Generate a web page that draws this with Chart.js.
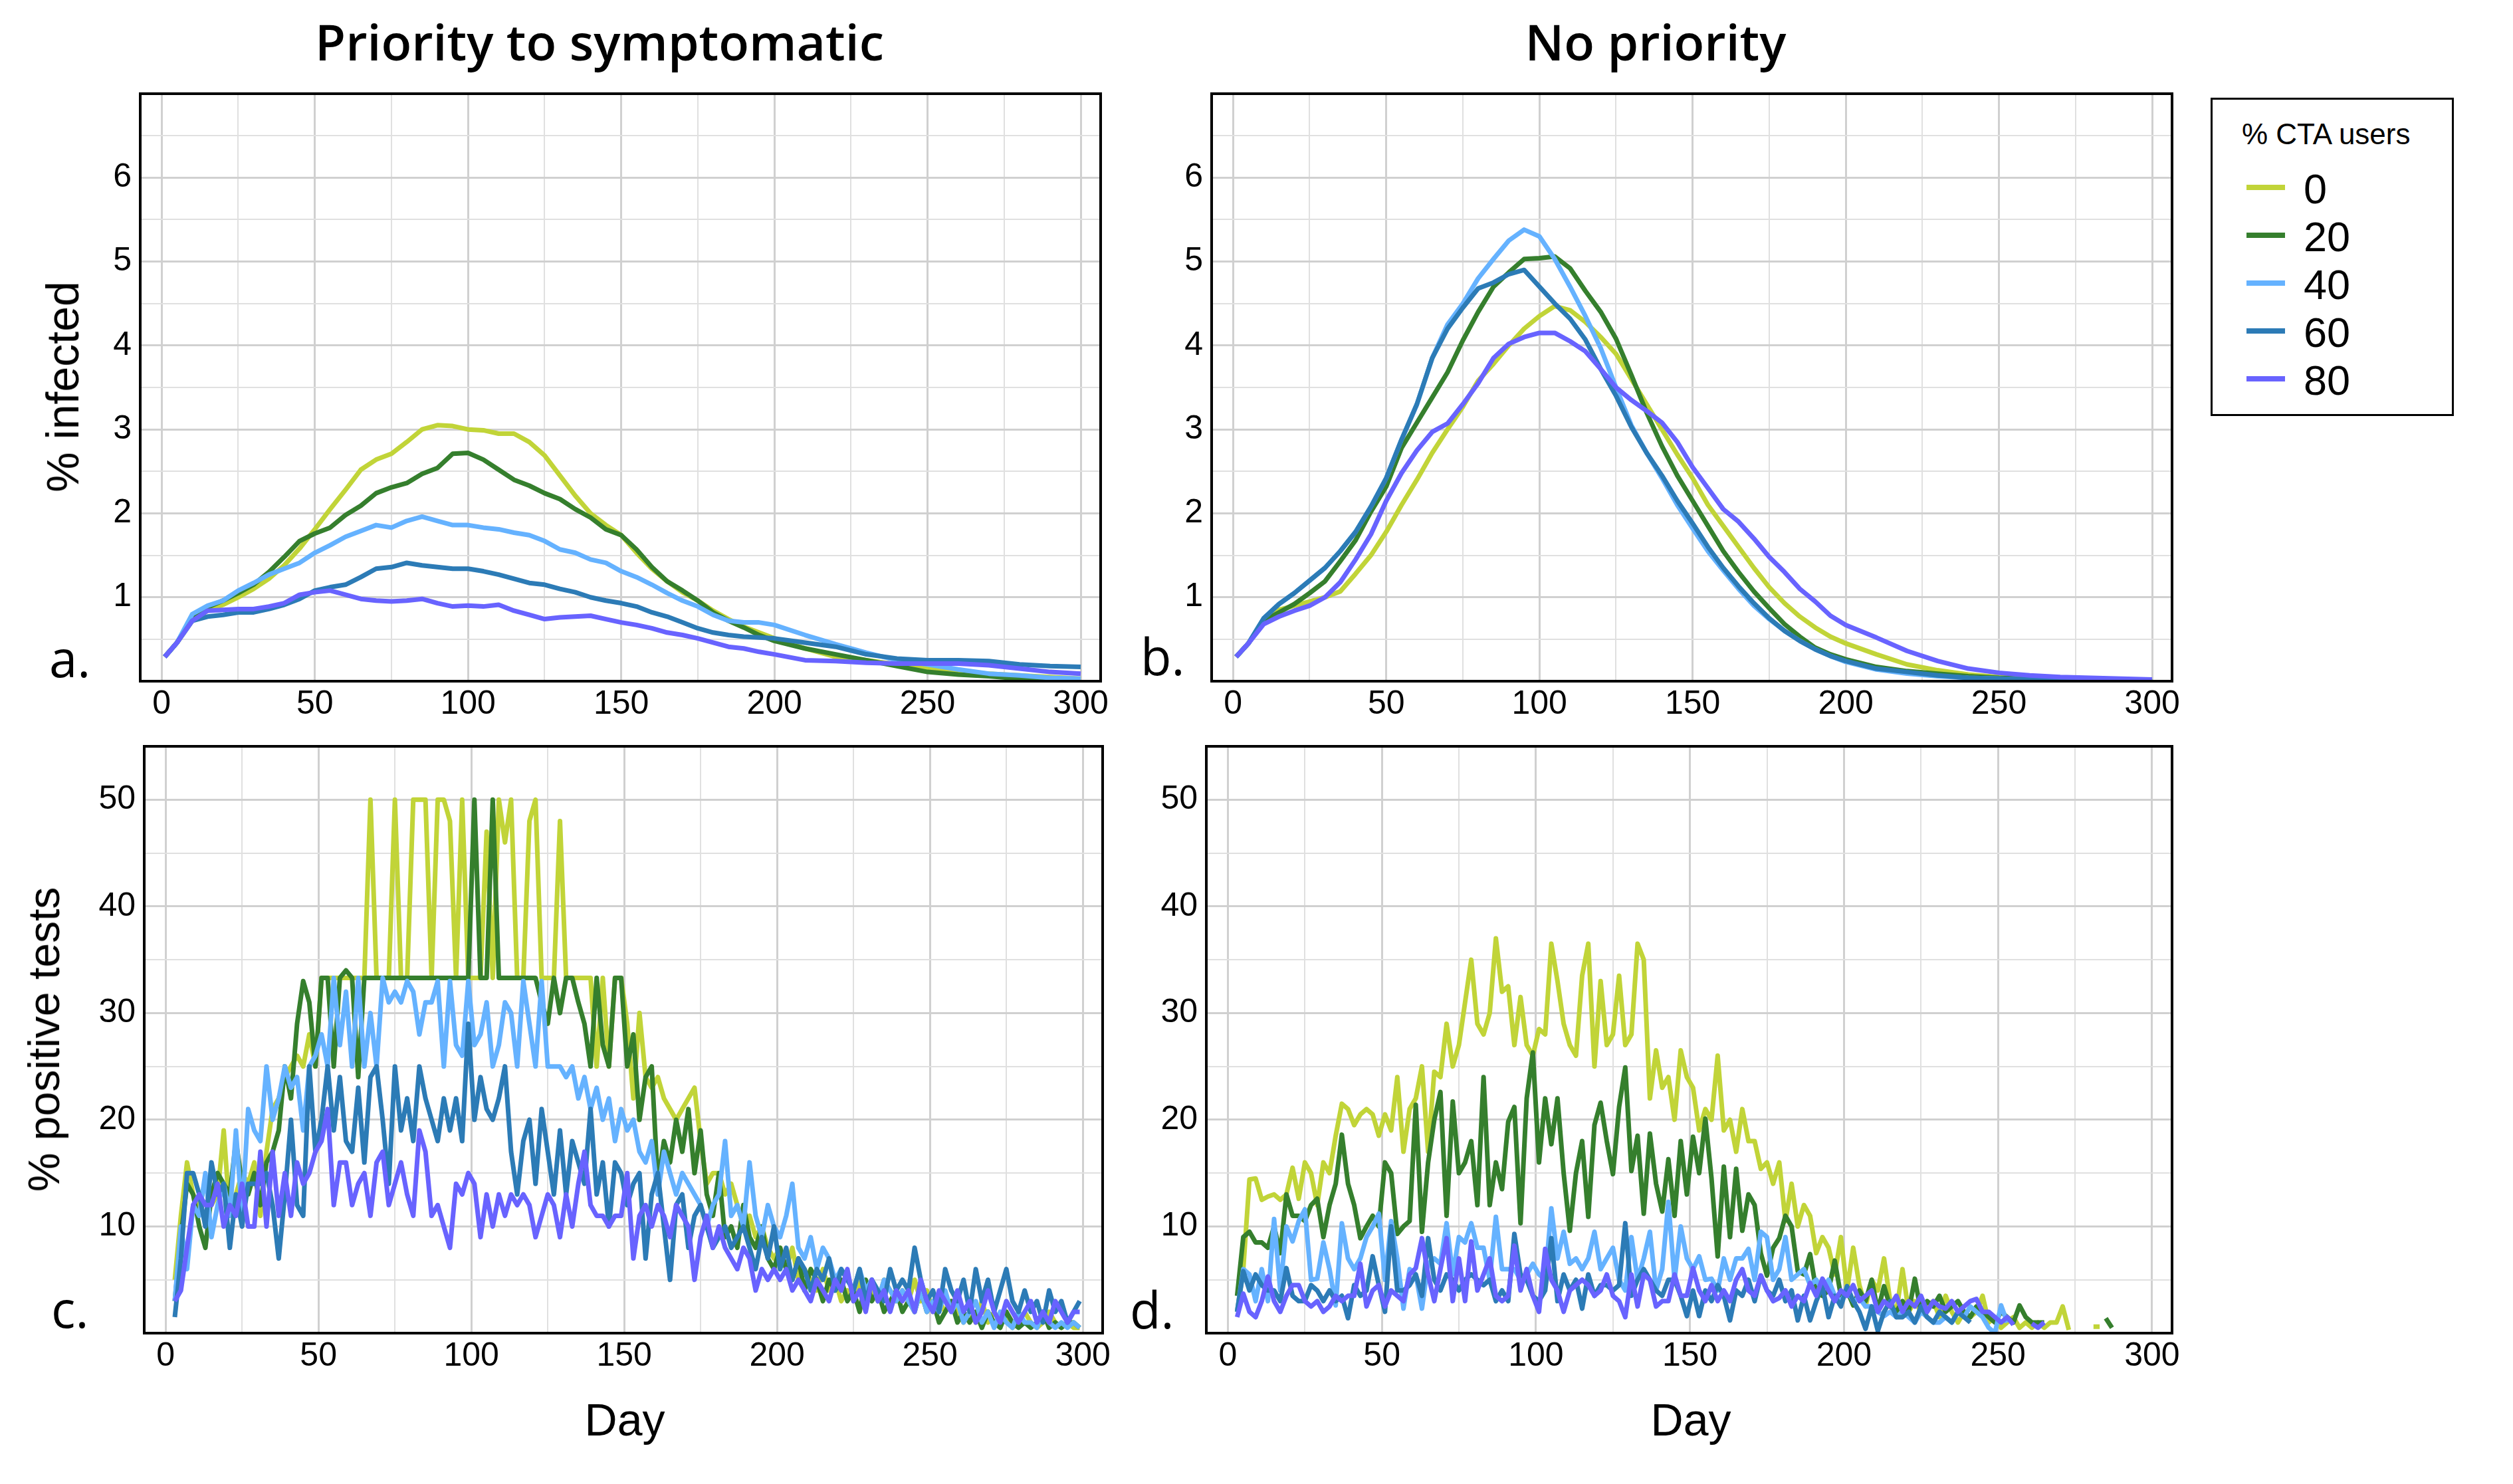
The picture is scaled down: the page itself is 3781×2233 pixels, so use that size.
<!DOCTYPE html>
<html>
<head>
<meta charset="utf-8">
<script src="https://cdn.jsdelivr.net/npm/chart.js@4.4.1/dist/chart.umd.min.js"></script>
<style>
  html, body { margin: 0; padding: 0; background: #fff; }
  #page { position: relative; width: 3781px; height: 2233px; overflow: hidden; background: #fff; }
  canvas { position: absolute; }
  .txt { position: absolute; white-space: nowrap; color: #000; }
  .sans { font-family: "Liberation Sans", Arial, sans-serif; }
  .open { font-family: "Open Sans", "Noto Sans", sans-serif; }
  #legend { position: absolute; box-sizing: border-box; border: 3px solid #000; background: #fff; }
  .swatch { position: absolute; height: 8px; width: 58px; }
</style>
</head>
<body>
<div id="page">
  <div class="txt open" style="left:902px;top:25px;font-size:75px;line-height:75px;font-weight:600;transform:translateX(-50%)">Priority to symptomatic</div>
  <div class="txt open" style="left:2491px;top:25px;font-size:75px;line-height:75px;font-weight:600;transform:translateX(-50%)">No priority</div>
</div>
<script>
// jours échantillonnés
const DAYS_AB = [1,5,10,15,20,25,30,35,40,45,50,55,60,65,70,75,80,85,90,95,100,105,110,115,120,125,130,135,140,145,150,155,160,165,170,175,180,185,190,195,200,210,220,230,240,250,260,270,280,290,300];
const DAYS_CD = Array.from({ length: 149 }, (_, i) => 3 + 2 * i);

const CTA_LEVELS = ["0", "20", "40", "60", "80"];
const COLORS = ["#c1d438", "#357f2d", "#65b2ff", "#2c7bb6", "#6863ff"];

const X_GRID = [0,25,50,75,100,125,150,175,200,225,250,275,300];
const X_LABELS = [0,50,100,150,200,250,300];
const Y_GRID_INF = [0,0.5,1,1.5,2,2.5,3,3.5,4,4.5,5,5.5,6,6.5,7];
const Y_LABELS_INF = [1,2,3,4,5,6];
const Y_GRID_POS = [0,5,10,15,20,25,30,35,40,45,50,55];
const Y_LABELS_POS = [10,20,30,40,50];

// a. % infected, priority to symptomatic
const A_0 = [0.29,0.46,0.72,0.84,0.91,1.0,1.1,1.22,1.38,1.58,
  1.81,2.05,2.28,2.52,2.64,2.71,2.85,3.0,3.05,3.04,
  3.0,2.99,2.95,2.95,2.85,2.69,2.45,2.21,2.0,1.86,
  1.74,1.53,1.34,1.19,1.06,0.96,0.84,0.74,0.65,0.58,
  0.51,0.39,0.29,0.25,0.2,0.15,0.11,0.09,0.07,0.05,0.03];
const A_20 = [0.29,0.46,0.75,0.88,0.96,1.05,1.15,1.3,1.48,1.67,
  1.76,1.83,1.98,2.09,2.24,2.31,2.36,2.47,2.54,2.71,
  2.72,2.64,2.52,2.4,2.33,2.24,2.17,2.05,1.95,1.81,
  1.74,1.57,1.36,1.19,1.08,0.96,0.82,0.72,0.64,0.55,
  0.48,0.39,0.32,0.25,0.18,0.11,0.08,0.06,0.03,0.02,0.02];
const A_40 = [0.29,0.46,0.8,0.9,0.96,1.08,1.17,1.27,1.34,1.41,
  1.53,1.62,1.72,1.79,1.86,1.83,1.91,1.96,1.91,1.86,
  1.86,1.83,1.81,1.77,1.74,1.67,1.57,1.53,1.45,1.41,
  1.31,1.24,1.15,1.05,0.96,0.89,0.79,0.72,0.7,0.7,
  0.67,0.55,0.44,0.34,0.25,0.2,0.14,0.09,0.07,0.04,0.03];
const A_60 = [0.29,0.46,0.72,0.77,0.79,0.82,0.82,0.86,0.91,0.98,
  1.08,1.12,1.15,1.24,1.34,1.36,1.41,1.38,1.36,1.34,
  1.34,1.31,1.27,1.22,1.17,1.15,1.1,1.06,1.0,0.96,
  0.93,0.89,0.82,0.77,0.7,0.63,0.58,0.55,0.53,0.52,
  0.51,0.46,0.41,0.32,0.27,0.25,0.25,0.24,0.2,0.18,0.17];
const A_80 = [0.29,0.46,0.72,0.84,0.85,0.86,0.86,0.89,0.93,1.03,
  1.06,1.08,1.03,0.98,0.96,0.95,0.96,0.98,0.93,0.89,
  0.9,0.89,0.91,0.84,0.79,0.74,0.76,0.77,0.78,0.74,
  0.7,0.67,0.63,0.58,0.55,0.51,0.46,0.41,0.39,0.35,
  0.32,0.25,0.24,0.22,0.21,0.21,0.21,0.19,0.15,0.11,0.09];

// b. % infected, no priority
const B_0 = [0.29,0.45,0.73,0.85,0.9,0.95,1.0,1.07,1.28,1.5,
  1.78,2.1,2.4,2.72,3.0,3.27,3.58,3.78,4.0,4.2,
  4.35,4.47,4.42,4.28,4.1,3.9,3.6,3.3,3.0,2.7,
  2.42,2.1,1.85,1.6,1.35,1.12,0.93,0.77,0.64,0.53,
  0.45,0.32,0.2,0.13,0.08,0.05,0.03,0.02,0.01,0.01,0];
const B_20 = [0.29,0.45,0.72,0.82,0.92,1.05,1.19,1.43,1.68,2.02,
  2.32,2.78,3.08,3.38,3.68,4.06,4.4,4.7,4.87,5.03,
  5.04,5.06,4.92,4.65,4.4,4.08,3.65,3.2,2.8,2.45,
  2.15,1.85,1.55,1.3,1.07,0.87,0.68,0.53,0.4,0.32,
  0.26,0.17,0.12,0.09,0.06,0.04,0.03,0.02,0.01,0.01,0];
const B_40 = [0.29,0.45,0.75,0.92,1.05,1.2,1.35,1.55,1.78,2.08,
  2.42,2.88,3.3,3.85,4.25,4.5,4.8,5.03,5.25,5.38,
  5.3,5.03,4.7,4.35,3.97,3.5,3.05,2.72,2.42,2.1,
  1.82,1.55,1.32,1.1,0.9,0.74,0.6,0.48,0.38,0.3,
  0.23,0.14,0.09,0.06,0.04,0.03,0.02,0.01,0.01,0.01,0];
const B_60 = [0.29,0.45,0.75,0.92,1.05,1.2,1.35,1.55,1.78,2.08,
  2.42,2.88,3.3,3.85,4.2,4.45,4.68,4.75,4.85,4.9,
  4.7,4.5,4.32,4.07,3.72,3.4,3.03,2.72,2.45,2.15,
  1.88,1.6,1.35,1.13,0.93,0.75,0.6,0.48,0.38,0.3,
  0.24,0.15,0.11,0.07,0.04,0.03,0.02,0.01,0.01,0.01,0];
const B_80 = [0.29,0.45,0.68,0.77,0.84,0.9,1.0,1.18,1.45,1.75,
  2.15,2.48,2.75,2.97,3.07,3.3,3.55,3.85,4.02,4.1,
  4.15,4.15,4.05,3.93,3.72,3.5,3.35,3.22,3.08,2.85,
  2.55,2.3,2.05,1.9,1.7,1.48,1.3,1.1,0.95,0.78,
  0.67,0.52,0.36,0.24,0.15,0.1,0.07,0.05,0.04,0.03,0.02];

// c. % positive tests, priority to symptomatic
const C_0 = [5,11,16,13,12,14,12,13,19,11,
  13,15,14,16,11,17,21,22,24,25,
  26,25,28,25,33.3,33.3,33.3,33.3,33.3,33.3,
  33.3,33.3,50,33.3,33.3,33.3,50,33.3,33.3,50,
  50,50,33.3,50,50,48,33.3,50,33.3,33.3,
  33.3,47,33.3,50,46,50,33.3,33.3,48,50,
  33.3,33.3,33.3,48,33.3,33.3,33.3,33.3,33.3,25,
  33.3,25,33.3,33.3,29,22,30,24,23,24,
  22,21,20,21,22,23,18,14,15,15,
  13,14,12,10,11,9,10,8,7,8,
  6,8,5,6,5,4,6,4,5,3,
  4,3,5,3,4,3,5,4,3,4,
  3,5,3,4,2,3,2,3,2,1,
  2,1,3,1,2,1,2,0.5,1,2,
  1,0.5,1,2,1,0.5,1,0.5,0.5];
const C_20 = [3,9,14,13,10,8,13,15,14,13,
  18,14,13,15,12,16,17,19,25,22,
  29,33,31,25,33.3,33.3,25,33.3,34,33.3,
  24,33.3,33.3,33.3,33.3,33.3,33.3,33.3,33.3,33.3,
  33.3,33.3,33.3,33.3,33.3,33.3,33.3,33.3,33.3,50,
  33.3,33.3,50,33.3,33.3,33.3,33.3,33.3,33.3,33.3,
  31,29,33.3,30,33.3,33.3,31,29,25,33.3,
  27,25,33.3,33.3,25,28,20,24,25,14,
  18,16,20,17,21,15,19,13,11,15,
  9,10,8,12,9,8,10,7,6,8,
  6,5,7,4,6,5,3,5,4,5,
  3,4,2,5,3,4,2,3,4,2,
  3,2,4,2,3,1,2,3,1,2,
  1,2,0.5,2,1,0.5,2,1,0.5,1,
  0.5,1,2,0.5,1,0.5,1,1,0.5];
const C_40 = [3,10,6,12,11,15,9,12,14,11,
  19,11,21,19,18,25,20,22,25,23,
  24,19,25,26,28,25,33.3,27,32,25,
  33.3,25,30,25,33.3,31,32,31,33,32,
  28,31,31,33,25,33,27,26,33,27,
  28,31,25,27,31,30,25,33,29,25,
  33,25,25,25,24,25,22,24,21,23,
  20,22,18,21,19,20,17,16,18,13,
  17,15,13,15,14,13,12,10,12,13,
  18,11,12,10,16,11,9,12,10,9,
  11,14,8,7,9,6,8,7,5,6,
  5,4,6,4,5,3,5,4,3,4,
  3,2,4,2,3,2,4,2,3,1,
  2,3,1,2,0.5,2,1,0.5,2,1,
  1,0.5,2,1,0.5,1,0.5,1,0.5];
const C_60 = [1.5,7,15,15,13,10,16,13,14,8,
  13,10,14,14,14,15,12,7,13,20,
  12,11,25,17,20,25,19,24,18,17,
  23,16,24,25,20,14,25,19,22,18,
  25,22,20,18,22,19,22,18,29,20,
  24,21,20,22,25,17,13,18,20,14,
  21,17,13,19,13,18,16,14,21,13,
  16,10,16,15,12,14,15,7,13,15,
  10,5,12,13,8,11,12,10,8,9,
  10,8,9,10,8,6,9,7,10,6,
  8,5,7,6,4,6,5,7,4,6,
  5,4,6,3,5,4,3,6,4,5,
  4,8,5,3,4,2,6,4,3,5,
  2,6,3,5,2,4,6,3,2,4,
  2,3,1,4,2,3,1,2,3];
const C_80 = [3,4,8,12,13,12,12,14,10,12,
  11,14,10,10,17,10,17,11,15,11,
  16,14,15,17,18,21,12,16,16,12,
  14,15,11,16,17,12,14,16,13,11,
  19,17,11,12,10,8,14,13,15,14,
  9,13,10,13,11,13,12,13,12,9,
  11,13,12,9,13,10,14,17,12,11,
  11,10,11,11,15,7,11,12,10,12,
  11,9,12,11,10,5,9,11,8,10,
  8,7,6,8,7,4,6,5,6,5,
  6,4,5,4,3,5,4,3,5,4,
  6,3,4,2,5,3,4,2,4,3,
  4,2,5,3,2,4,3,2,4,2,
  3,1,2,4,2,1,3,2,1,2,
  3,1,2,1,3,2,1,2,2];

// d. % positive tests, no priority
const D_0 = [2,6,14.4,14.5,12.5,12.8,13,12.5,13,15.5,
  12.6,16,15,12,16,15,18.5,21.5,21,19.5,
  20.5,21,20.5,18.5,20.5,19,24,17,21,22,
  25,17,24.5,24,29,25,27,31,35,29,
  28,30,37,32,32.5,27,31.5,27,26,28.5,
  28,36.5,33,29,27,26,33.5,36.5,25,33,
  27,28,33.5,27,28,36.5,35,22,26.5,23,
  24,20,26.5,24,23,19,21,20,26,19,
  20,17,21,18,18,15.4,16,14,16,10.5,
  14,10,12,11,7.5,9,8,5.5,9,4,
  8,4.5,2.5,5,4,7,3,2,6,2,
  3,2,2.5,3,1.5,3.5,2,1,2,1.5,
  2,3.5,1,1.5,0.5,1,1.5,0.5,1,0.5,
  1,0.5,1,1,2.5,0.3,null,null,null,0.6,
  0.6,null,null,null,null,null,null,null,null];
const D_20 = [3.5,9,9.5,8.5,8.5,8,10,7.5,13,11,
  11,10.5,12,12.6,9,12,14,18.6,14,12,
  8.9,10,11,10,16,15,9.3,10,10.5,21.4,
  9.5,16,20,22.6,11,21.7,15,16,18,12,
  24,12,16,13.5,19.8,21.2,10.3,22,26.3,16,
  22,17.7,22,15,9.6,15,18,10.9,19.5,21.6,
  18,14.9,21.2,24.9,15.2,18.5,11.2,18.7,14,11.4,
  16.3,11,18,13,18.4,15,20.1,14.5,7.2,15.6,
  9,15.4,9.6,13,12,7.5,5.4,8,8.9,11,
  10,5.8,5.5,7.4,4,3.5,4,6.8,3.5,4,
  2.6,4,3,5,2.1,4.4,2.5,2,3,2,
  5.1,2,3,2.5,3.5,2,2.5,3,2,1.5,
  2.5,2,1.5,1,2,1.5,1,2.6,1.5,1,
  1,1,null,null,null,null,null,null,null,null,
  null,1.4,0.5,null,null,null,null,null,null];
const D_40 = [2,6,5.5,3,6,3,10.7,4,10,8.6,
  10.5,11.6,5,5.1,8.5,6,2.6,10.3,7,6,
  7,9,10,11.2,5,10.5,7,2.3,6,5.5,
  2.3,6.5,7,6.5,10.3,5.5,9,8.5,10.3,8,
  8,5,10.9,6,6,6,5,5.5,6.5,5.5,
  5,11.7,7,9.5,6.5,7,6,7,9.5,6,
  7,8,5,4,9,5,7,9.5,4,6,
  12.3,5,10,7,6,7.2,5,5.1,4,7,
  5,7,7,7.9,5,9.5,9,5,6,9,
  5,5.5,6,4.5,5,4,5,3.5,3,4,
  3,3.3,2.5,2.5,2,1.6,2,1.5,2,1.5,
  1,2,1.5,1,1,1.5,1,2,1.5,2.5,
  2,1.5,0.5,0,2.6,1,null,null,null,null,
  null,null,null,null,null,null,null,null,null,null,
  null,null,null,null,null,null,null,null,null];
const D_60 = [2,5.8,4,5.5,4.5,4,4,3,6.1,3.5,
  3,3,4.5,4,3,4,3,3.5,1.4,4.5,
  3.5,4,7.2,4.5,2,10,4,4,4.5,5.5,
  3.5,8.9,5,4,5.5,5,4,5,5.5,5,
  4.5,5,3,4,3,9.3,5.5,5,3.5,3,
  4,8.9,3,5.5,4,5,2.3,5.5,3.5,4.5,
  4.5,4,4.5,10.3,3.5,5,6,5,4,3.5,
  5,5,3.5,1.6,4,1.6,4,3,4.5,3.5,
  1.2,4,3.5,5,3,5.4,4,3.5,5,3,
  4,1.2,3.5,1.2,3,4.4,1.5,3.5,2.5,4.4,
  3,2,0.4,2.5,0.2,2,3,1.5,1.5,2,
  1,2.5,1.5,1,2,1.5,1,2,1.5,1,
  null,null,null,null,null,null,null,null,null,null,
  null,null,null,null,null,null,null,null,null,null,
  null,null,null,null,null,null,null,null,null];
const D_80 = [1.5,3.7,2,1.5,3,5.3,3,2,3.5,4.5,
  4.5,3,2.5,3,2,2.5,3.5,3,3.5,3.5,
  6.5,2.5,4,4.5,2.5,4,3.5,3,5.5,6.1,
  8.9,5.5,3,6,8.9,3,7,3,8.6,4,
  5.5,7,3.5,3,3.5,8.2,4,6,3.5,2,
  7.9,5,4,2,4,4.5,5,4.5,3.5,4,
  5.5,3.5,3,1.5,5.5,2.5,5.5,5,2.5,3,
  3,5.5,3.5,3.5,6.1,4,3,4.5,3,4,
  3,5,6,4,3.5,5.4,4,3,3.3,4,
  2.5,3.5,3,4.7,3.5,5.1,4,3,4,3.5,
  4.5,3,3.5,4,2,3,2.5,3.5,2,3,
  2.5,3.5,2,3,2.5,2.3,3,2,2.5,3,
  3.2,2,2,1.5,1,1.5,0.8,null,null,0.9,
  0.5,1,null,null,null,null,null,null,null,null,
  null,null,null,null,null,null,null,null,null];

// mise en page (pixels de la page)
const Y_W = 150, PAD_T = 50, PAD_R = 70, X_H = 90;
const TICK_FONT = { family: "'Liberation Sans', Arial, sans-serif", size: 50 };

const PANELS = [
  { frame: [211, 141, 1656, 1025], days: DAYS_AB, series: [A_0, A_20, A_40, A_60, A_80], yMax: 7, yGrid: Y_GRID_INF, yLabels: Y_LABELS_INF, yMajor: 1 },
  { frame: [1823, 141, 3268, 1025], days: DAYS_AB, series: [B_0, B_20, B_40, B_60, B_80], yMax: 7, yGrid: Y_GRID_INF, yLabels: Y_LABELS_INF, yMajor: 1 },
  { frame: [217, 1123, 1659, 2006], days: DAYS_CD, series: [C_0, C_20, C_40, C_60, C_80], yMax: 55, yGrid: Y_GRID_POS, yLabels: Y_LABELS_POS, yMajor: 10 },
  { frame: [1815, 1123, 3268, 2006], days: DAYS_CD, series: [D_0, D_20, D_40, D_60, D_80], yMax: 55, yGrid: Y_GRID_POS, yLabels: Y_LABELS_POS, yMajor: 10 }
];

// cadre noir autour de la zone du graphique
const framePlugin = {
  id: "frame",
  afterDraw(chart) {
    const { ctx, chartArea: a } = chart;
    ctx.save();
    ctx.strokeStyle = "#000";
    ctx.lineWidth = 4;
    ctx.strokeRect(a.left, a.top, a.right - a.left, a.bottom - a.top);
    ctx.restore();
  }
};

function gridStyle(step) {
  return {
    color: c => (c.tick && c.tick.value % step === 0) ? "#d0d0d0" : "#e0e0e0",
    lineWidth: c => (c.tick && c.tick.value % step === 0) ? 3 : 2,
    drawTicks: false
  };
}

const page = document.getElementById("page");

PANELS.forEach(p => {
  const [l, t, r, b] = p.frame;
  const canvas = document.createElement("canvas");
  const w = (r - l) + Y_W + PAD_R;
  const h = (b - t) + PAD_T + X_H;
  canvas.width = w;
  canvas.height = h;
  canvas.style.left = (l - Y_W) + "px";
  canvas.style.top = (t - PAD_T) + "px";
  canvas.style.width = w + "px";
  canvas.style.height = h + "px";
  page.appendChild(canvas);

  new Chart(canvas.getContext("2d"), {
    type: "line",
    data: {
      datasets: p.series.map((vals, i) => ({
        label: CTA_LEVELS[i],
        data: p.days.map((d, k) => ({ x: d, y: vals[k] })),
        borderColor: COLORS[i],
        borderWidth: 7,
        borderJoinStyle: "round",
        pointRadius: 0,
        tension: 0,
        spanGaps: false,
        order: 5 - i
      }))
    },
    options: {
      responsive: false,
      animation: false,
      devicePixelRatio: 1,
      layout: { padding: { left: 0, top: PAD_T, right: PAD_R, bottom: 0 } },
      plugins: { legend: { display: false }, tooltip: { enabled: false } },
      scales: {
        x: {
          type: "linear",
          min: -7,
          max: 306.5,
          afterBuildTicks: s => { s.ticks = X_GRID.map(v => ({ value: v })); },
          afterFit: s => { s.height = X_H; },
          ticks: {
            autoSkip: false, maxRotation: 0, minRotation: 0, padding: 5,
            color: "#000", font: TICK_FONT,
            callback: v => X_LABELS.includes(v) ? String(v) : ""
          },
          grid: gridStyle(50),
          border: { display: false }
        },
        y: {
          type: "linear",
          min: 0,
          max: p.yMax,
          afterBuildTicks: s => { s.ticks = p.yGrid.map(v => ({ value: v })); },
          afterFit: s => { s.width = Y_W; },
          ticks: {
            autoSkip: false, padding: 13,
            color: "#000", font: TICK_FONT,
            callback: v => p.yLabels.includes(v) ? String(v) : ""
          },
          grid: gridStyle(p.yMajor),
          border: { display: false }
        }
      }
    },
    plugins: [framePlugin]
  });
});

// textes hors graphique
function addText(html, cls, style) {
  const d = document.createElement("div");
  d.className = "txt " + cls;
  d.style.cssText = style;
  d.textContent = html;
  page.appendChild(d);
}

addText("% infected", "sans", "left:94px;top:582px;font-size:68px;line-height:68px;transform:translate(-50%,-50%) rotate(-90deg)");
addText("% positive tests", "sans", "left:66px;top:1564px;font-size:66px;line-height:66px;transform:translate(-50%,-50%) rotate(-90deg)");
addText("Day", "sans", "left:940px;top:2102px;font-size:68px;line-height:68px;transform:translateX(-50%)");
addText("Day", "sans", "left:2544px;top:2102px;font-size:68px;line-height:68px;transform:translateX(-50%)");

addText("a.", "open", "left:74px;top:952px;font-size:76px;line-height:76px");
addText("b.", "open", "left:1716px;top:949px;font-size:76px;line-height:76px");
addText("c.", "open", "left:77px;top:1931px;font-size:76px;line-height:76px");
addText("d.", "open", "left:1700px;top:1932px;font-size:76px;line-height:76px");

// légende
const legend = document.createElement("div");
legend.id = "legend";
legend.style.cssText = "left:3326px;top:147px;width:366px;height:479px";
page.appendChild(legend);
addText("% CTA users", "sans", "left:3373px;top:180px;font-size:44px;line-height:44px");
const ROW_Y = [282, 354, 426, 498, 570];
CTA_LEVELS.forEach((lab, i) => {
  const sw = document.createElement("div");
  sw.className = "swatch";
  sw.style.cssText = `left:3380px;top:${ROW_Y[i] - 4}px;background:${COLORS[i]}`;
  page.appendChild(sw);
  addText(lab, "sans", `left:3466px;top:${ROW_Y[i] + 2 - 31}px;font-size:63px;line-height:63px`);
});
</script>
</body>
</html>
